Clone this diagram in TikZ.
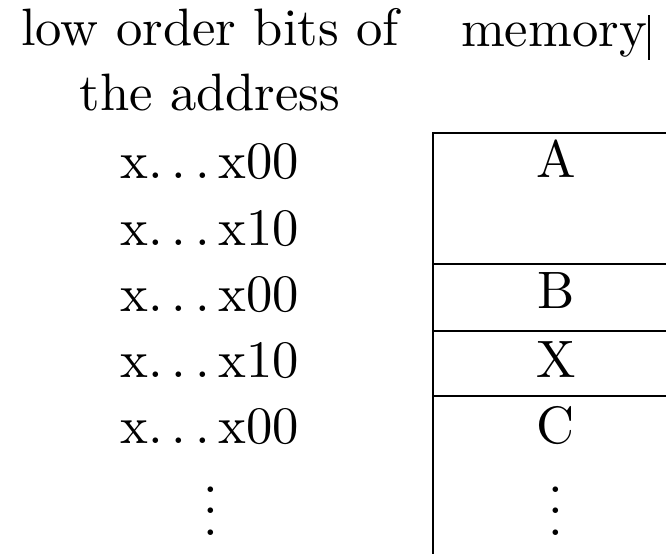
\documentclass[tikz,border=0pt]{standalone}
\usepackage{tikz}
\usetikzlibrary{positioning}
\newcommand{\adots}{.\kern\fontdimen3\font.\kern\fontdimen3\font.\kern\fontdimen3\font}
\newcommand{\vdotcol}{\vbox{\baselineskip4pt\lineskiplimit0pt\hbox{.}\hbox{.}\hbox{.}}}

\begin{document}
\begin{tikzpicture}[
      x=0.19pt,y=-0.19pt,
      txt/.style={inner sep=0pt,anchor=base},
      rule/.style={line width=0.4pt,black}]
      \useasboundingbox (0,0) rectangle (666,554);
      % Column heads
      \node[txt] (head1) at (210,45)  {low order bits of};
      \node[txt] (head2) at (210,110) {the address};
      \node[txt] (headm) at (554,46)  {memory};
      \draw[rule] (649,15) -- (649,60);

      % Addresses
      \node[txt] (ad1) at (210,178) {x\adots x00};
      \node[txt] (ad2) at (210,245) {x\adots x10};
      \node[txt] (ad3) at (210,311) {x\adots x00};
      \node[txt] (ad4) at (210,377) {x\adots x10};
      \node[txt] (ad5) at (210,443) {x\adots x00};
      \node[txt] (ad6) at (211,535) {\vdotcol};

      % Memory cells
      \node[txt] (mA) at (556,177) {A};
      \node[txt] (mB) at (556,308) {B};
      \node[txt] (mX) at (556,377) {X};
      \node[txt] (mC) at (556,443) {C};
      \node[txt] (mD) at (556,535) {\vdotcol};

      \draw[rule] (666,133) -- (433,133) -- (433,554);
      \foreach \y in {264,331,396}
        \draw[rule] (433,\y) -- (666,\y);
    \end{tikzpicture}
\end{document}
